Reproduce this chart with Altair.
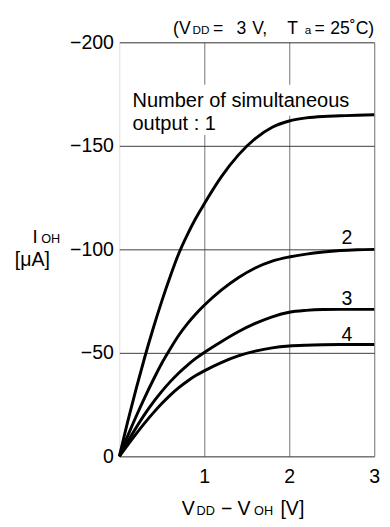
import altair as alt
import pandas as pd

FONT = "Liberation Sans"

# ---- data ----
vdd_voh = [0, 0.1, 0.2, 0.3, 0.4, 0.5, 0.6, 0.7, 0.8, 0.9, 1.0,
           1.2, 1.4, 1.6, 1.8, 2.0, 2.2, 2.4, 2.6, 2.8, 3.0]
ioh_1 = [0, -17, -33, -48, -62, -75, -87, -98, -107, -115, -122,
         -135, -145.5, -153.5, -159, -162, -163.5, -164.2, -164.5, -164.8, -165]
ioh_2 = [0, -10, -19.5, -28.5, -37, -45, -52, -58.5, -64, -68.8, -73,
         -80.3, -86.3, -91, -94.3, -96.3, -97.7, -98.7, -99.4, -99.8, -100]
ioh_3 = [0, -7.2, -14, -20.4, -26.2, -31.4, -36.1, -40.3, -44, -47.3, -50.2,
         -55.4, -60.2, -64.2, -67.4, -69.6, -70.5, -70.9, -71, -71, -71]
ioh_4 = [0, -5.6, -11, -16.2, -21, -25.5, -29.6, -33.2, -36.3, -39, -41.3,
         -45.3, -48.5, -50.8, -52.4, -53.3, -53.7, -53.9, -54, -54, -54]
series_names = ["1", "2", "3", "4"]

y_ticks = [0, -50, -100, -150, -200]
x_ticks = [1, 2, 3]

curve_labels = ["2", "3", "4"]
curve_label_x = [2.68, 2.68, 2.68]
curve_label_y = [-105.2, -75.9, -58.5]

note_lines = ["Number of simultaneous", "output : 1"]
note_x = [0.155, 0.155]
note_y = [-168.7, -157.7]

# white boxes behind the note text (grid is interrupted there)
mask_x = [0.12, 0.12]
mask_x2 = [2.86, 1.25]
mask_y = [-179.5, -164.5]
mask_y2 = [-164.5, -155.2]

rows = []
for name, ys in zip(series_names, [ioh_1, ioh_2, ioh_3, ioh_4]):
    for x, y in zip(vdd_voh, ys):
        rows.append({"x": x, "y": y, "n": name})
df = pd.DataFrame(rows)

W, H = 261, 424
LEFT, TOP = 122, 37  # page position of plot origin

xs = alt.Scale(domain=[0, 3], nice=False, zero=False)
ys = alt.Scale(domain=[0, -200], nice=False, zero=False)

masks = alt.Chart(pd.DataFrame({"x": mask_x, "x2": mask_x2, "y": mask_y, "y2": mask_y2})).mark_rect(
    color="white").encode(
    x=alt.X("x:Q", scale=xs), x2="x2:Q", y=alt.Y("y:Q", scale=ys), y2="y2:Q")

lines = alt.Chart(df).mark_line(color="black", strokeWidth=3, interpolate="monotone").encode(
    x=alt.X("x:Q", scale=xs,
            axis=alt.Axis(values=x_ticks, format="d", title=None, domain=False, ticks=False,
                          labelFontSize=20, labelFont=FONT, labelColor="black",
                          labelPadding=11, labelFlush=False, labelOverlap=False,
                          gridColor="#8a8a8a", gridWidth=1.2)),
    y=alt.Y("y:Q", scale=ys,
            axis=alt.Axis(values=y_ticks, title=None, domain=False, ticks=False,
                          labelFontSize=20, labelFont=FONT, labelColor="black",
                          labelPadding=6, gridColor="#3a3a3a", gridWidth=1)),
    detail="n:N")

clabels = alt.Chart(pd.DataFrame({"x": curve_label_x, "y": curve_label_y, "t": curve_labels})).mark_text(
    fontSize=20, font=FONT, color="black", baseline="middle", align="center").encode(
    x=alt.X("x:Q", scale=xs), y=alt.Y("y:Q", scale=ys), text="t:N")

note = alt.Chart(pd.DataFrame({"x": note_x, "y": note_y, "t": note_lines})).mark_text(
    fontSize=20.5, font=FONT, color="black", baseline="alphabetic", align="left").encode(
    x=alt.X("x:Q", scale=xs), y=alt.Y("y:Q", scale=ys), text="t:N")


def piece(txt, px, py, size, align="left"):
    return alt.Chart(alt.Data(values=[{}])).mark_text(
        text=txt, fontSize=size, font=FONT, color="black", align=align,
        baseline="alphabetic").encode(x=alt.value(px - LEFT), y=alt.value(py - TOP))


BIG, SMALL = 20, 13
TN, TS = 18, 12
texts = [
    # top condition note
    piece("(V", 177, 28, TN),
    piece("DD", 197, 28, TS),
    piece("=", 218, 28, TN),
    piece("3", 242, 28, TN),
    piece("V,", 258, 28, TN),
    piece("T", 294, 28, TN),
    piece("a", 312, 28, TS),
    piece("=", 322, 28, TN),
    piece("25˚C)", 383, 28, TN, "right"),
    # y title
    piece("I", 33, 243, 19),
    piece("OH", 42, 243, SMALL),
    piece("[μA]", 15, 266, 20),
    # x title
    piece("V", 186, 521, BIG),
    piece("DD", 201, 521, SMALL),
    piece("−", 226, 521, BIG),
    piece("V", 243, 521, BIG),
    piece("OH", 260, 521, SMALL),
    piece("[V]", 287, 521, BIG),
]

chart = alt.layer(masks, lines, clabels, note, *texts).properties(
    width=W, height=H,
    autosize=alt.AutoSizeParams(type="none"),
    padding={"left": LEFT - 8, "top": TOP - 8, "right": 8, "bottom": 527 - 8 - TOP - H},
).configure_view(stroke="#111", strokeWidth=2).configure(background="white")

chart.save("out.html", embed_options={"renderer": "svg", "actions": False})
